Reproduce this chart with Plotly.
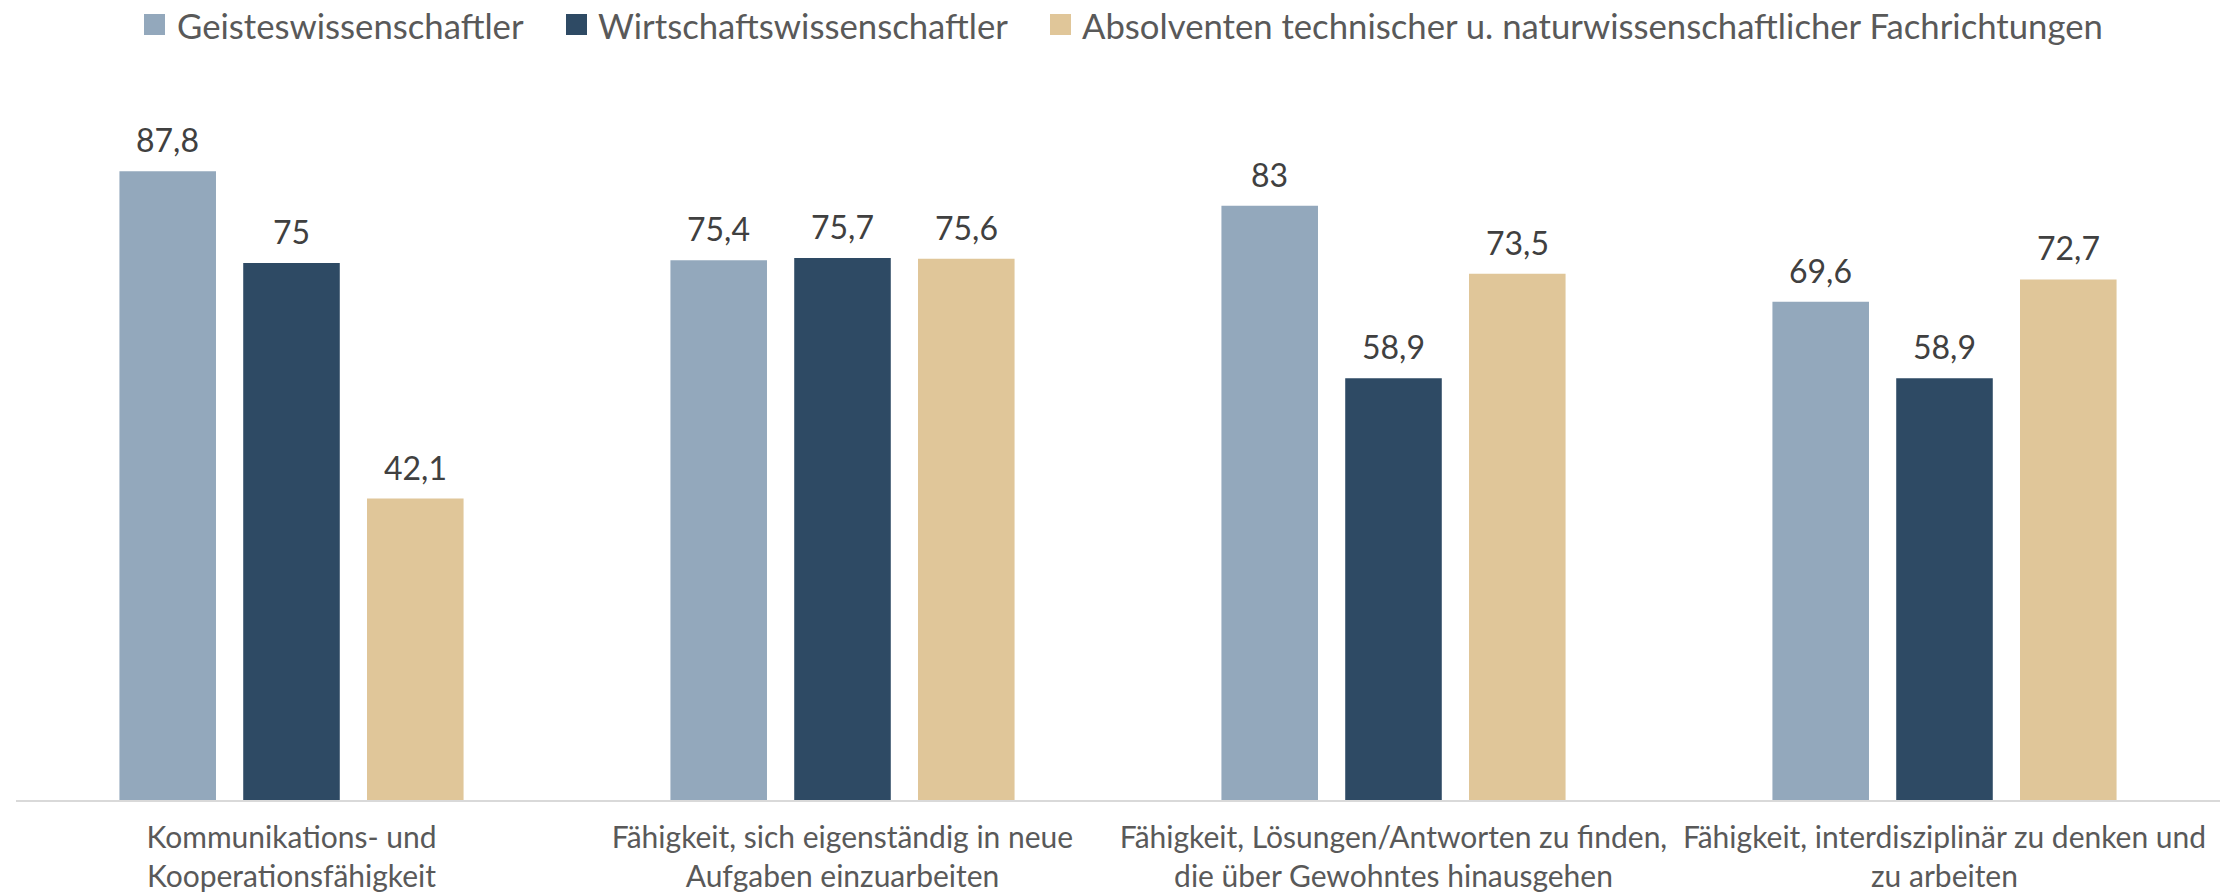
import plotly.graph_objects as go

categories = [
    "Kommunikations- und<br>Kooperationsfähigkeit",
    "Fähigkeit, sich eigenständig in neue<br>Aufgaben einzuarbeiten",
    "Fähigkeit, Lösungen/Antworten zu finden,<br>die über Gewohntes hinausgehen",
    "Fähigkeit, interdisziplinär zu denken und<br>zu arbeiten",
]
series_names = [
    "Geisteswissenschaftler",
    "Wirtschaftswissenschaftler",
    "Absolventen technischer u. naturwissenschaftlicher Fachrichtungen",
]
geistes = [87.8, 75.4, 83.0, 69.6]
wirtschaft = [75.0, 75.7, 58.9, 58.9]
technik = [42.1, 75.6, 73.5, 72.7]
series_values = [geistes, wirtschaft, technik]
colors = ["#93A8BC", "#2E4A64", "#E0C699"]

FONT = "Lato"
BARGAP = 0.326
GROUPGAP = 0.22

def fmt(v):
    return ("%g" % v).replace(".", ",")

fig = go.Figure()
x_idx = list(range(len(categories)))
for name, vals, col in zip(series_names, series_values, colors):
    fig.add_trace(go.Bar(
        x=x_idx, y=vals, name=name, marker=dict(color=col, line=dict(width=0)),
        showlegend=False, hoverinfo="skip",
    ))

# value labels
slot = (1 - BARGAP) / len(series_values)
for i, vals in enumerate(series_values):
    off = (i - (len(series_values) - 1) / 2) * slot
    for j, v in enumerate(vals):
        fig.add_annotation(
            x=j + off, y=v, xref="x", yref="y", text=fmt(v), showarrow=False,
            yanchor="bottom", yshift=10,
            font=dict(family=FONT, size=32, color="#404040"),
        )

# custom legend (page coords of plot area: x 16..2220, y 84..800)
W, X0, Y0, H = 2204, 16, 800, 716
def px(X):
    return (X - X0) / W
def py(Y):
    return (Y0 - Y) / H
legend_sq_left = [144, 566, 1050]
legend_txt_left = [175, 596, 1080]
for name, col, sx, tx in zip(series_names, colors, legend_sq_left, legend_txt_left):
    fig.add_shape(type="rect", xref="paper", yref="paper",
                  x0=px(sx), x1=px(sx + 21), y0=py(35), y1=py(14),
                  fillcolor=col, line=dict(width=0))
    fig.add_annotation(xref="paper", yref="paper", x=px(tx), y=py(26),
                       xanchor="left", yanchor="middle", text=name, showarrow=False,
                       font=dict(family=FONT, size=34.7, color="#595959"))

fig.update_layout(
    width=2233, height=896,
    margin=dict(l=16, r=13, t=84, b=96, autoexpand=False),
    paper_bgcolor="white", plot_bgcolor="white",
    barmode="group", bargap=BARGAP, bargroupgap=GROUPGAP,
    separators=",.",
    showlegend=False,
    hovermode=False,
    xaxis=dict(
        tickmode="array", tickvals=x_idx, ticktext=categories,
        tickangle=0, automargin=False,
        showline=True, linecolor="#D9D9D9", linewidth=2,
        showgrid=False, zeroline=False, ticks="",
        tickfont=dict(family=FONT, size=30, color="#595959"),
        ticklabelstandoff=10,
    ),
    yaxis=dict(range=[0, 100], visible=False, showgrid=False, zeroline=False,
               automargin=False),
)

fig.write_html(
    "out.html",
    config={"displayModeBar": False},
    post_script="document.body.style.margin='0';document.body.style.overflow='hidden';",
)
